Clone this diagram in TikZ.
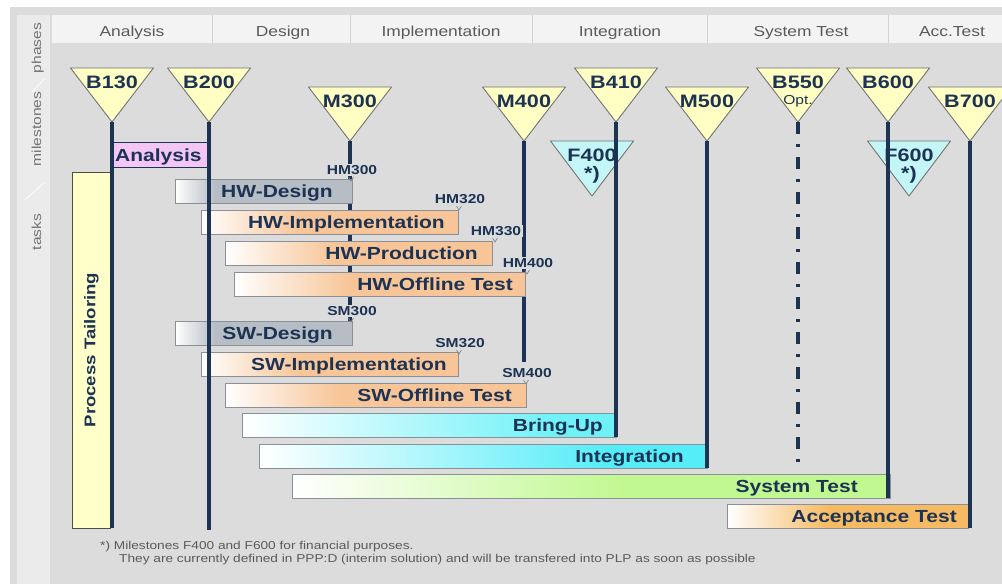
\documentclass[tikz,border=0pt]{standalone}
\usepackage{fontspec}
\setsansfont{Liberation Sans}[FakeStretch=1.2]
\definecolor{bgray}{HTML}{DCDCDC}
\definecolor{hdr}{HTML}{F3F3F3}
\definecolor{lcol}{HTML}{EBEBEB}
\definecolor{navy}{HTML}{1C3354}
\definecolor{mstone}{HTML}{FFFFC4}
\definecolor{fstone}{HTML}{C4F6F8}
\definecolor{pinkbar}{HTML}{F4C6F6}
\definecolor{tailor}{HTML}{FFFFCA}
\definecolor{dsgn}{HTML}{B6BDC5}
\definecolor{impl}{HTML}{F7C597}
\definecolor{bring}{HTML}{6EF2F8}
\definecolor{integ}{HTML}{55EDF8}
\definecolor{systest}{HTML}{C2F892}
\definecolor{acctest}{HTML}{F6BA62}
\definecolor{barline}{HTML}{8A9098}
\definecolor{hdrtext}{HTML}{5A5A5A}

\begin{document}
\begin{tikzpicture}[x=1pt,y=-1pt,
  phase/.style={font=\sffamily\fontsize{14.5}{16}\selectfont,text=hdrtext,anchor=base},
  side/.style={font=\sffamily\fontsize{13}{15}\selectfont,text=gray!90!black,rotate=90,anchor=base},
  mslabel/.style={font=\sffamily\bfseries\fontsize{18}{20}\selectfont,text=navy,inner sep=0pt,anchor=base},
  tasklabel/.style={font=\sffamily\bfseries\fontsize{17.5}{20}\selectfont,text=navy,anchor=base east,inner sep=0pt},
  sublabel/.style={font=\sffamily\bfseries\fontsize{13}{15}\selectfont,text=navy,fill=bgray,inner sep=1.5pt},
  foot/.style={font=\sffamily\fontsize{11.4}{13}\selectfont,text=hdrtext,anchor=base west,inner sep=0pt},
  msline/.style={navy,line width=3.5pt},
  tri/.style={draw=gray!90!black,line width=0.9pt,line join=round}]
\useasboundingbox (0,0) rectangle (1002,584);
\clip (0,0) rectangle (1002,584);

% frame, side column and phase header
\fill[white] (0,0) rectangle (1002,584);
\fill[bgray] (10,7) rectangle (1002,584);
\fill[lcol] (17,15) rectangle (50,584);
\fill[hdr] (52,15) rectangle (1002,43);
\foreach \x in {212,350,532,707,888}
  \draw[gray!35] (\x,15) -- (\x,43);
\node[phase] (ph1) at (132,36) {Analysis};
\node[phase] (ph2) at (283,36) {Design};
\node[phase] (ph3) at (441,36) {Implementation};
\node[phase] (ph4) at (620,36) {Integration};
\node[phase] (ph5) at (801,36) {System Test};
\node[phase] (ph6) at (952,36) {Acc.Test};

\node[side] (sphases) at (41,48) {phases};
\node[side] (smiles) at (41,129) {milestones};
\node[side] (stasks) at (41,232) {tasks};
\draw[white,line width=0.8pt] (32,92) -- (44,79);
\draw[white,line width=0.8pt] (25,200) -- (44,183);

% milestones
\foreach \nm/\cx/\ty/\lab in {b130/112/68/B130,b200/209/68/B200,m300/350/87/M300,m400/524/87/M400,b410/616/68/B410,m500/707/87/M500,b550/798/68/B550,b600/888/68/B600,b700/970/87/B700}
{
  \filldraw[tri,fill=mstone] (\cx-41.5,\ty) -- (\cx+41.5,\ty) -- (\cx,\ty+54) -- cycle;
  \coordinate (\nm) at (\cx,\ty+54);
  \node[mslabel] (\nm-lab) at (\cx,\ty+20.5) {\lab};
}
\node[mslabel,font=\sffamily\fontsize{13}{15}\selectfont] (b550-opt) at (798,104) {Opt.};

\foreach \nm/\cx/\lab in {f400/592/F400,f600/909/F600}
{
  \filldraw[tri,fill=fstone] (\cx-41.5,141) -- (\cx+41.5,141) -- (\cx,196) -- cycle;
  \node[mslabel] (\nm-lab) at (\cx,161.5) {\lab};
  \node[mslabel,anchor=center] (\nm-star) at (\cx,175) {*)};
}

% hardware/software milestone lines lie behind the bars
\foreach \nm/\cx/\ye in {m300/350/322,m400/524/362}
{
  \coordinate (\nm-end) at (\cx,\ye);
  \draw[msline] (\nm) -- (\nm-end);
}

% analysis and tailoring
\filldraw[fill=tailor,draw=gray!60!black,line width=0.8pt] (72,172) rectangle (110,528);
\node[tasklabel,font=\sffamily\bfseries\fontsize{15.5}{18}\selectfont,rotate=90,anchor=center] (tailoring) at (91.5,350) {Process Tailoring};
\filldraw[fill=pinkbar,draw=navy,line width=0.8pt] (112,142) rectangle (209,167);
\node[tasklabel,anchor=base west] (analysis) at (115,161) {Analysis};

% task bars
\foreach \xa/\xb/\yt/\fa/\tx/\col/\txt [count=\i] in {175/352/179/215/333/dsgn/HW-Design,
 201/458/210/300/445/impl/HW-Implementation,
 225/492/241/335/478/impl/HW-Production,
 234/525/272/350/513/impl/HW-Offline Test,
 175/352/321/215/333/dsgn/SW-Design,
 201/458/352/300/447/impl/SW-Implementation,
 225/526/383/340/512/impl/SW-Offline Test,
 242/616/413/560/603/bring/Bring-Up,
 259/707/444/610/684/integ/Integration,
 292/890/474/620/858/systest/System Test,
 727/968/504/830/957/acctest/Acceptance Test}
{
  \fill[\col] (\fa,\yt) rectangle (\xb,\yt+24);
  \shade[left color=white,right color=\col] (\xa,\yt) rectangle (\fa,\yt+24);
  \draw[barline,line width=0.8pt] (\xa,\yt) rectangle (\xb,\yt+24);
  \node[tasklabel] (task\i) at (\tx,\yt+18.5) {\txt};
}

% sub-milestones
\foreach \nm/\xm/\ym/\lab in {hm300/352/170/HM300,hm320/460/199/HM320,hm330/496/231/HM330,hm400/528/263/HM400,sm300/352/311/SM300,sm320/460/343/SM320,sm400/527/373/SM400}
{
  \node[sublabel] (\nm) at (\xm,\ym) {\lab};
  \draw[gray,line width=0.6pt] (\xm-3.5,\ym+7) -- (\xm-1,\ym+11) -- (\xm+1.5,\ym+7);
}

% baseline milestone lines
\foreach \nm/\cx/\ye in {b130/112/528,b200/209/530,b410/616/437,m500/707/468,b600/888/498,b700/970/528}
{
  \coordinate (\nm-end) at (\cx,\ye);
  \draw[msline] (\nm) -- (\nm-end);
}
\coordinate (b550-end) at (798,467);
\draw[msline,dash pattern=on 12pt off 10pt on 3pt off 10pt] (b550) -- (b550-end);

\node[foot] (note1) at (100,549) {*) Milestones F400 and F600 for financial purposes.};
\node[foot] (note2) at (119,562) {They are currently defined in PPP:D (interim solution) and will be transfered into PLP as soon as possible};
\end{tikzpicture}
\end{document}
